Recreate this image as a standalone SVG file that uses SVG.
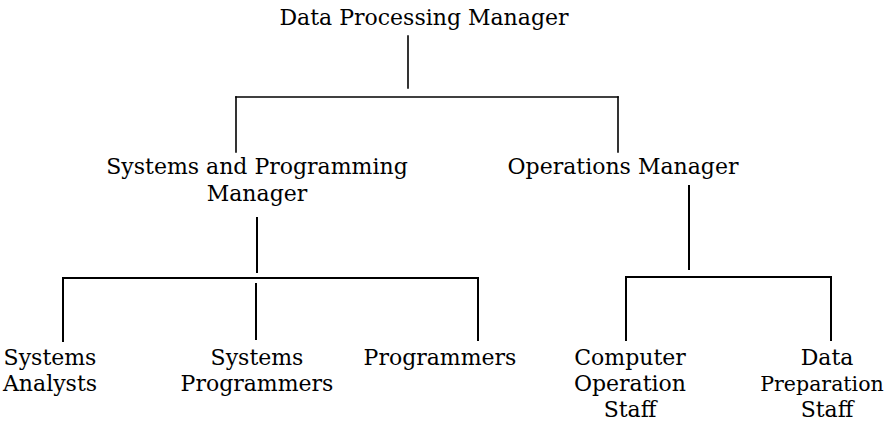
<svg xmlns="http://www.w3.org/2000/svg" width="887" height="425" viewBox="0 0 887 425">
<style>
text{font-family:"DejaVu Serif","Liberation Serif",serif;font-size:22px;fill:#000;text-anchor:middle}
text.n{font-size:20.5px}
.c line{stroke:#000;stroke-width:2;stroke-linecap:square}
.c line.thin{stroke-width:1.6}
</style>
<rect width="887" height="425" fill="#fff"/>
<g class="c" id="connectors">
<line class="thin" x1="408" y1="36" x2="408" y2="88"/>
<line class="thin" x1="236" y1="97" x2="618" y2="97"/>
<line class="thin" x1="236" y1="97" x2="236" y2="152"/>
<line class="thin" x1="618" y1="97" x2="618" y2="152"/>
<line x1="257" y1="218" x2="257" y2="272"/>
<line x1="63" y1="278" x2="478" y2="278"/>
<line x1="63" y1="278" x2="63" y2="341"/>
<line x1="256" y1="284" x2="256" y2="339"/>
<line x1="478" y1="278" x2="478" y2="340"/>
<line x1="689" y1="186" x2="689" y2="269"/>
<line x1="626" y1="277" x2="831" y2="277"/>
<line x1="626" y1="277" x2="626" y2="340"/>
<line x1="831" y1="277" x2="831" y2="340"/>
</g>
<g id="dp-manager"><text x="424" y="25">Data Processing Manager</text></g>
<g id="sp-manager"><text x="257" y="174">Systems and Programming</text><text x="257" y="201">Manager</text></g>
<g id="ops-manager"><text x="623" y="174">Operations Manager</text></g>
<g id="analysts"><text x="50" y="365">Systems</text><text x="50" y="391">Analysts</text></g>
<g id="sys-programmers"><text x="257" y="365">Systems</text><text x="257" y="391">Programmers</text></g>
<g id="programmers"><text x="440" y="365">Programmers</text></g>
<g id="computer-ops"><text x="630" y="365">Computer</text><text x="630" y="391">Operation</text><text x="630" y="417">Staff</text></g>
<g id="data-prep"><text x="827" y="365">Data</text><text class="n" x="822" y="391">Preparation</text><text x="827" y="417">Staff</text></g>
</svg>
